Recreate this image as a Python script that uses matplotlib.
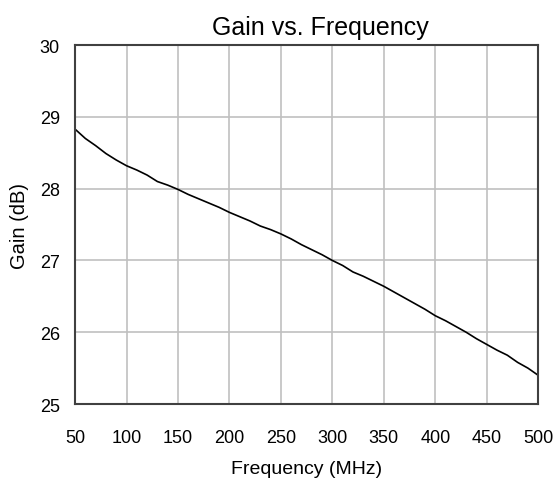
import matplotlib
matplotlib.use("Agg")
import matplotlib.pyplot as plt

freq_mhz = [50, 60, 70, 80, 90, 100, 110, 120, 130, 140, 150, 160, 170, 180, 190,
            200, 210, 220, 230, 240, 250, 260, 270, 280, 290, 300, 310, 320, 330,
            340, 350, 360, 370, 380, 390, 400, 410, 420, 430, 440, 450, 460, 470,
            480, 490, 500]
gain_db = [28.83, 28.70, 28.60, 28.49, 28.40, 28.32, 28.26, 28.19, 28.10, 28.05,
           27.99, 27.92, 27.86, 27.80, 27.74, 27.67, 27.61, 27.55, 27.48, 27.43,
           27.37, 27.30, 27.22, 27.15, 27.08, 27.00, 26.93, 26.84, 26.78, 26.71,
           26.64, 26.56, 26.48, 26.40, 26.32, 26.23, 26.16, 26.08, 26.00, 25.91,
           25.83, 25.75, 25.68, 25.58, 25.50, 25.40]
x_ticks = [50, 100, 150, 200, 250, 300, 350, 400, 450, 500]
y_ticks = [25, 26, 27, 28, 29, 30]

plt.rcParams['font.family'] = ['Liberation Sans', 'DejaVu Sans']

fig = plt.figure(figsize=(5.56, 4.81), dpi=100)
ax = fig.add_axes([0.135, 0.158, 0.833, 0.746])
ax.plot(freq_mhz, gain_db, color='black', linewidth=1.2)
ax.set_xlim(50, 500)
ax.set_ylim(25, 30)
ax.set_xticks(x_ticks)
ax.set_yticks(y_ticks)
ax.grid(True, color='#c0c0c0', linewidth=1.2)
ax.tick_params(axis='x', length=0, labelsize=13, pad=18)
ax.tick_params(axis='y', length=0, labelsize=13, pad=11)
for s in ax.spines.values():
    s.set_color('#404040')
    s.set_linewidth(1.5)
fig.text(0.576, 0.927, "Gain vs. Frequency", fontsize=18, ha='center', va='baseline')
ax.set_xlabel("Frequency (MHz)", fontsize=14, labelpad=10)
ax.set_ylabel("Gain (dB)", fontsize=14.5, labelpad=8)
fig.savefig("out.png", dpi=100)
